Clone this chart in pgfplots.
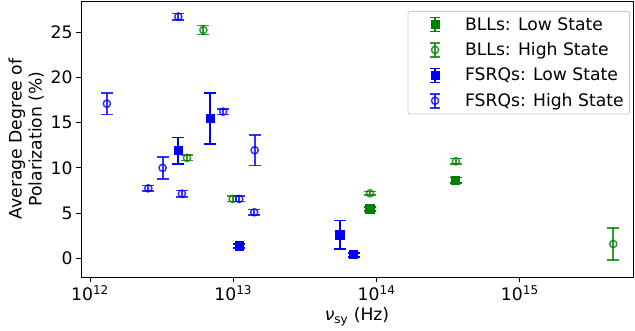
\documentclass[border=0pt]{standalone}
\usepackage{pgfplots}
\pgfplotsset{compat=1.18}
\usepackage{fontspec}
\setmainfont{DejaVu Sans}
\definecolor{mblue}{RGB}{0,0,255}
\definecolor{mgreen}{RGB}{0,128,0}
\newcommand{\fs}{\fontsize{17.2bp}{20bp}\selectfont}
\begin{document}
\begin{tikzpicture}
\pgfplotsset{
  ebar/.style={only marks, line width=1.5bp,
    error bars/y dir=both, error bars/y explicit,
    error bars/error bar style={line width=2bp},
    error bars/error mark options={rotate=90, line width=1.6bp, mark size=6bp}},
  legend image code/.code={
    \path[draw=none, fill=none] (0bp,0bp) -- (51bp,0bp);
    \draw[#1, mark=none, line width=2bp] (23bp,-7bp) -- (23bp,7bp);
    \draw[#1, mark=none, line width=1.6bp] (18bp,-7bp) -- (28bp,-7bp);
    \draw[#1, mark=none, line width=1.6bp] (18bp,7bp) -- (28bp,7bp);
    \draw[#1] plot coordinates {(23bp,0bp)};
  },
}
\begin{axis}[
  at={(0,0)}, anchor=south west,
  scale only axis, width=552bp, height=276bp,
  xmode=log, log basis x=10,
  xmin=8.65e11, xmax=6.17e15,
  ymin=-2.07, ymax=28.46,
  xtick={1e12,1e13,1e14,1e15},
  xticklabels={10\textsuperscript{12},10\textsuperscript{13},10\textsuperscript{14},10\textsuperscript{15}},
  ytick={0,5,10,15,20,25},
  /pgf/number format/assume math mode=true,
  tick align=outside, tick pos=left,
  major tick length=5bp, minor tick length=3bp,
  every tick/.style={black, line width=0.8bp},
  axis line style={line width=0.8bp},
  tick label style={font=\fs},
  label style={font=\fs},
  xlabel={\textit{ν}\textsubscript{sy} (Hz)},
  ylabel={Average Degree of\\Polarization (\%)},
  ylabel style={align=center},
  legend style={font=\fs, at={(1,1)}, xshift=-3bp, yshift=-10bp, anchor=north east,
    draw=black!20, rounded corners=2bp, line width=0.8bp, row sep=7bp, inner sep=4bp},
  legend cell align=left,
]
% BLLs: Low State
\addplot[mgreen, ebar, mark=square*, mark size=3.8bp] table[x=x,y=y,y error=e] {
x y e
9.0e13 5.45 0.25
3.58e14 8.63 0.3
};
\addlegendentry{BLLs: Low State}
% BLLs: High State
\addplot[mgreen, ebar, opacity=0.8, mark=o, mark size=3.6bp] table[x=x,y=y,y error=e] {
x y e
6.18e12 25.25 0.5
4.75e12 11.1 0.3
9.9e12 6.56 0.3
9.0e13 7.19 0.2
3.58e14 10.73 0.3
4.49e15 1.58 1.75
};
\addlegendentry{BLLs: High State}
% FSRQs: Low State
\addplot[mblue, ebar, mark=square*, mark size=3.8bp] table[x=x,y=y,y error=e] {
x y e
4.13e12 11.9 1.45
6.9e12 15.45 2.8
1.1e13 1.36 0.25
5.56e13 2.58 1.58
6.95e13 0.37 0.2
};
\addlegendentry{FSRQs: Low State}
% FSRQs: High State
\addplot[mblue, ebar, opacity=0.8, mark=o, mark size=3.6bp] table[x=x,y=y,y error=e] {
x y e
1.31e12 17.1 1.2
2.55e12 7.74 0.3
3.21e12 10.0 1.2
4.13e12 26.73 0.35
4.38e12 7.15 0.35
8.5e12 16.22 0.3
1.1e13 6.56 0.3
1.41e13 11.95 1.7
1.40e13 5.09 0.3
};
\addlegendentry{FSRQs: High State}
\end{axis}
\pgfresetboundingbox
\useasboundingbox (-81bp,-54bp) rectangle (554bp,277bp);
\end{tikzpicture}
\end{document}
